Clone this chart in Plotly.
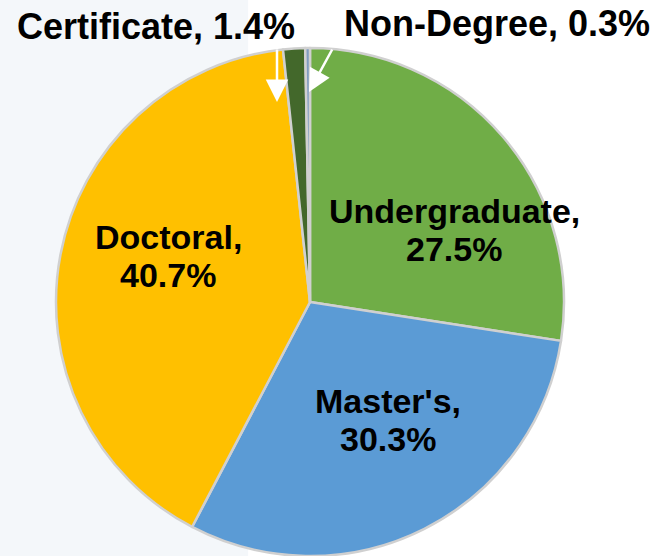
import plotly.graph_objects as go

# data
labels = ["Undergraduate", "Master's", "Doctoral", "Certificate", "Non-Degree"]
shares = [27.5, 30.3, 40.7, 1.4, 0.3]
colors = ["#70AD47", "#5B9BD5", "#FFC000", "#43682B", "#7F9CC0"]

W, H = 653, 556

fig = go.Figure(go.Pie(
    labels=labels,
    values=shares,
    sort=False,
    direction="clockwise",
    rotation=0,
    textinfo="none",
    hoverinfo="label+percent",
    marker=dict(colors=colors, line=dict(color="#D0D0D0", width=2.5)),
    domain=dict(x=[56 / W, 564 / W], y=[0, 508 / H]),
    showlegend=False,
))

font_in = dict(family="Liberation Sans, Arial, sans-serif", size=34, color="#000000")
font_out = dict(family="Liberation Sans, Arial, sans-serif", size=36, color="#000000")

# label placement in pixels: (x, y line 1, y line 2)
inside_pos = {"Undergraduate": (454, 211, 249), "Master's": (388, 401, 439), "Doctoral": (168, 237, 275)}
outside_pos = {"Certificate": (156, 26), "Non-Degree": (497, 24)}


def paper(px_, py_):
    return px_ / W, 1 - py_ / H


ann = []
for name, val in zip(labels, shares):
    if name in inside_pos:
        px_, y1, y2 = inside_pos[name]
        for txt, py_ in ((f"{name},", y1), (f"{val}%", y2)):
            x, y = paper(px_, py_)
            ann.append(dict(x=x, y=y, xref="paper", yref="paper", text=f"<b>{txt}</b>",
                            showarrow=False, font=font_in, xanchor="center", yanchor="middle"))
    else:
        x, y = paper(*outside_pos[name])
        ann.append(dict(x=x, y=y, xref="paper", yref="paper", text=f"<b>{name}, {val}%</b>",
                        showarrow=False, font=font_out, xanchor="center", yanchor="middle"))

# white arrows to the two thin slices
for (tx, ty), (ax, ay) in (((277, 102), (0, -54)), ((309, 92), (24, -44))):
    x, y = paper(tx, ty)
    ann.append(dict(x=x, y=y, xref="paper", yref="paper", text="", showarrow=True,
                    ax=ax, ay=ay, arrowcolor="white", arrowwidth=2.5, arrowhead=2, arrowsize=1.8))

fig.update_layout(
    width=W, height=H,
    margin=dict(l=0, r=0, t=0, b=0),
    paper_bgcolor="white",
    annotations=ann,
    shapes=[dict(type="rect", xref="paper", yref="paper", x0=0, x1=0.38, y0=0, y1=1,
                 fillcolor="#F4F7FA", line=dict(width=0), layer="below")],
)

fig.write_html("out.html", config={"displayModeBar": False},
               post_script="document.body.style.margin='0';")
